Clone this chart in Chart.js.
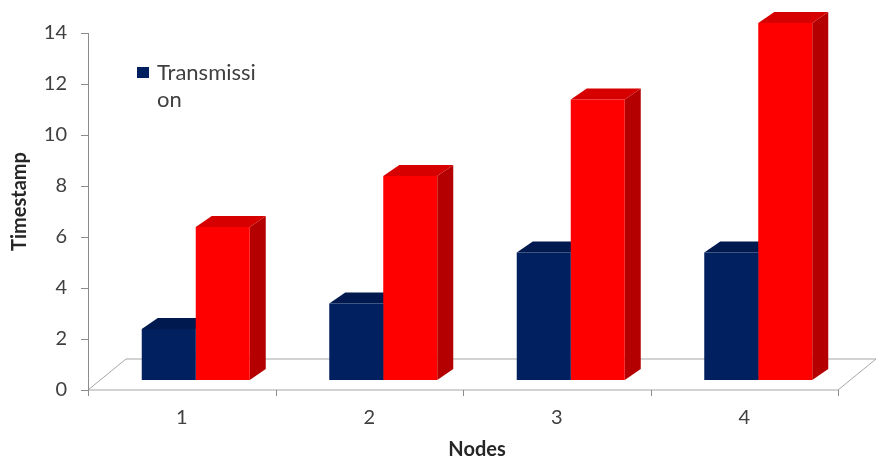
<!DOCTYPE html>
<html><head><meta charset="utf-8">
<script src="https://cdn.jsdelivr.net/npm/chart.js@4/dist/chart.umd.min.js"></script>
<style>html,body{margin:0;padding:0;background:#fff}#wrap{width:880px;height:462px;position:relative}</style>
</head><body><div id="wrap"><canvas id="c"></canvas></div>
<script>
const categories = ['1', '2', '3', '4'];
const transmission = [2, 3, 5, 5];
const secondSeries = [6, 8, 11, 14];
const yTickValues = [0, 2, 4, 6, 8, 10, 12, 14];
const legendLines = ['Transmissi', 'on'];

const frontColors = ['#002060', '#ff0000'];
const topColors = ['#001a50', '#d60000'];
const sideColors = ['#00153f', '#b40000'];
const FONT = 'Lato, "Open Sans", sans-serif';
const barDepth = {dx: 16, dy: -11};
const floorDepth = {dx: 38, dy: -31};
const planeShift = {x: -14, y: 10};

const threeD = {
  id: 'threeD',
  beforeDatasetsDraw(chart) {
    const {ctx, chartArea: a, scales: {x, y}} = chart;
    const fl = a.left + planeShift.x, fr = a.right + planeShift.x;
    const fy = y.getPixelForValue(0) + planeShift.y;
    ctx.save();
    // floor
    ctx.strokeStyle = '#a6a6a6';
    ctx.lineWidth = 1;
    ctx.fillStyle = '#ffffff';
    ctx.beginPath();
    ctx.moveTo(fl, fy);
    ctx.lineTo(fr, fy);
    ctx.lineTo(fr + floorDepth.dx, fy + floorDepth.dy);
    ctx.lineTo(fl + floorDepth.dx, fy + floorDepth.dy);
    ctx.closePath();
    ctx.fill();
    ctx.stroke();
    // y axis line and ticks
    ctx.strokeStyle = '#8c8c8c';
    ctx.beginPath();
    ctx.moveTo(fl + 0.5, y.getPixelForValue(yTickValues[yTickValues.length - 1]) + planeShift.y);
    ctx.lineTo(fl + 0.5, fy);
    yTickValues.forEach(v => {
      const py = Math.round(y.getPixelForValue(v) + planeShift.y) + 0.5;
      ctx.moveTo(fl - 7, py);
      ctx.lineTo(fl + 0.5, py);
    });
    // x ticks
    for (let i = 0; i <= categories.length; i++) {
      const px = Math.round(x.getPixelForValue(i - 0.5) + planeShift.x) + 0.5;
      ctx.moveTo(px, fy);
      ctx.lineTo(px, fy + 6);
    }
    ctx.stroke();
    // bar depth faces
    chart.data.datasets.forEach((ds, di) => {
      const meta = chart.getDatasetMeta(di);
      meta.data.forEach(bar => {
        const p = bar.getProps(['x', 'y', 'base', 'width'], true);
        const l = p.x - p.width / 2, r = p.x + p.width / 2;
        ctx.fillStyle = sideColors[di];
        ctx.beginPath();
        ctx.moveTo(r, p.y);
        ctx.lineTo(r + barDepth.dx, p.y + barDepth.dy);
        ctx.lineTo(r + barDepth.dx, p.base + barDepth.dy);
        ctx.lineTo(r, p.base);
        ctx.closePath();
        ctx.fill();
        ctx.fillStyle = topColors[di];
        ctx.beginPath();
        ctx.moveTo(l, p.y);
        ctx.lineTo(l + barDepth.dx, p.y + barDepth.dy);
        ctx.lineTo(r + barDepth.dx, p.y + barDepth.dy);
        ctx.lineTo(r, p.y);
        ctx.closePath();
        ctx.fill();
      });
    });
    ctx.restore();
  },
  afterDraw(chart) {
    const {ctx, chartArea: a} = chart;
    ctx.save();
    const lx = a.left + 35, ly = a.top + 44;
    ctx.fillStyle = frontColors[0];
    ctx.fillRect(lx, ly, 12, 11);
    ctx.fillStyle = '#404040';
    ctx.font = '22px ' + FONT;
    ctx.textBaseline = 'middle';
    ctx.textAlign = 'left';
    legendLines.forEach((t, i) => ctx.fillText(t, lx + 20, ly + 6 + i * 27));
    ctx.restore();
  }
};

new Chart(document.getElementById('c'), {
  type: 'bar',
  data: {
    labels: categories,
    datasets: [
      {label: 'Transmission', data: transmission, backgroundColor: frontColors[0], borderWidth: 0, categoryPercentage: 0.576, barPercentage: 1.0},
      {label: '', data: secondSeries, backgroundColor: frontColors[1], borderWidth: 0, categoryPercentage: 0.576, barPercentage: 1.0}
    ]
  },
  options: {
    responsive: true,
    maintainAspectRatio: false,
    animation: false,
    layout: {padding: {top: 23, right: 28, bottom: 0, left: 0}},
    plugins: {legend: {display: false}, tooltip: {enabled: false}},
    scales: {
      x: {
        grid: {display: false, drawTicks: false},
        border: {display: false},
        ticks: {labelOffset: planeShift.x, padding: 26, color: '#404040', font: {family: FONT, size: 20}},
        title: {display: true, text: 'Nodes', color: '#262626', font: {family: FONT, size: 20, weight: 'bold'}, padding: {top: 0, bottom: 0}},
        afterFit: s => { s.height = 82; s.paddingLeft = 0; s.paddingRight = 0; }
      },
      y: {
        min: 0, max: 14,
        grid: {display: false, drawTicks: false},
        border: {display: false},
        afterBuildTicks: s => { s.ticks = yTickValues.map(v => ({value: v})); },
        ticks: {labelOffset: planeShift.y, padding: 35, color: '#404040', font: {family: FONT, size: 20}},
        title: {display: true, text: 'Timestamp', color: '#262626', font: {family: FONT, size: 20, weight: 'bold'}, padding: {top: 8, bottom: 0}},
        afterFit: s => { s.width = 102; s.paddingTop = 0; s.paddingBottom = 0; }
      }
    }
  },
  plugins: [threeD]
});
</script></body></html>
